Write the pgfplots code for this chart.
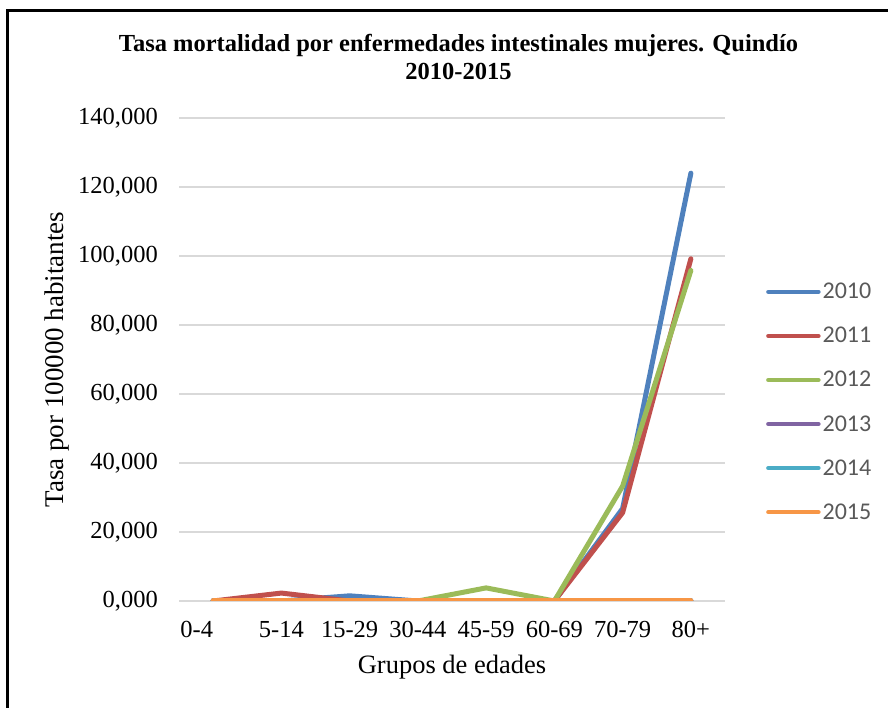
\documentclass[border=0pt]{standalone}
\usepackage{pgfplots}
\pgfplotsset{compat=1.18}
\usepackage{fontspec}
\setmainfont{Liberation Serif}
\newfontfamily\legendfont{Carlito}

\definecolor{c2010}{HTML}{4F81BD}
\definecolor{c2011}{HTML}{C0504D}
\definecolor{c2012}{HTML}{9BBB59}
\definecolor{c2013}{HTML}{8064A2}
\definecolor{c2014}{HTML}{4BACC6}
\definecolor{c2015}{HTML}{F79646}
\definecolor{gridgray}{HTML}{D9D9D9}
\definecolor{legtext}{HTML}{595959}

\begin{document}
\begin{tikzpicture}[x=1pt,y=1pt]
\useasboundingbox (0,0) rectangle (888,708);
% outer frame (runs off the page on the right and at the bottom)
\begin{scope}
\clip (0,0) rectangle (888,708);
\draw[line width=3.5pt] (7.5,-20) -- (7.5,697.5) -- (900,697.5);
\end{scope}
\begin{axis}[
  at={(179pt,107pt)}, anchor=south west,
  scale only axis, width=546pt, height=483pt,
  xmin=-0.5, xmax=7.5, ymin=0, ymax=140,
  xtick={0,...,7},
  xticklabels={{\llap{0-4}},5-14,15-29,30-44,45-59,60-69,70-79,80+},
  ytick={0,20,...,140},
  axis line style={draw=none},
  major tick length=0pt,
  ymajorgrids, grid style={gridgray, line width=1.5pt},
  tick label style={font=\fontsize{24.5}{28}\selectfont, text=black},
  yticklabel style={inner sep=0pt, xshift=-21pt,
    /pgf/number format/fixed, /pgf/number format/fixed zerofill,
    /pgf/number format/precision=3, /pgf/number format/use comma,
    /pgf/number format/1000 sep={}, /pgf/number format/assume math mode=true},
  xticklabel style={inner sep=0pt, yshift=-20pt},
  title={Tasa mortalidad por enfermedades intestinales mujeres. Quindío\\2010-2015},
  title style={align=center, font=\bfseries\fontsize{24.5}{27.5}\selectfont,
    at={(axis description cs:0.512,1.114)}, anchor=center},
  xlabel={Grupos de edades},
  xlabel style={font=\fontsize{26.5}{30}\selectfont,
    at={(axis description cs:0.5,-0.1366)}, anchor=center},
  ylabel={Tasa por 100000 habitantes},
  ylabel style={font=\fontsize{27}{30}\selectfont,
    at={(axis description cs:-0.2234,0.5)}, anchor=center},
  every axis plot/.append style={line width=5pt, line cap=round, line join=round},
  legend image code/.code={\draw[#1, line width=4.5pt] (0pt,0pt) -- (50pt,0pt);},
  legend cell align=left,
  legend style={at={(axis description cs:1.075,0.412)}, anchor=west,
    draw=none, fill=none, inner sep=0pt,
    font=\legendfont\fontsize{24}{28}\selectfont, text=legtext,
    row sep=23pt,
    /tikz/every even column/.append style={column sep=4pt}},
]
\addplot[c2010] coordinates {(0,0) (1,0) (2,1.5) (3,0) (4,0) (5,0) (6,26.8) (7,124.0)};
\addplot[c2011] coordinates {(0,0) (1,2.3) (2,0) (3,0) (4,0) (5,0) (6,25.6) (7,99.2)};
\addplot[c2012] coordinates {(0,0) (1,0) (2,0) (3,0) (4,3.8) (5,0) (6,33.3) (7,95.8)};
\addplot[c2013] coordinates {(0,0) (1,0) (2,0) (3,0) (4,0) (5,0) (6,0) (7,0)};
\addplot[c2014] coordinates {(0,0) (1,0) (2,0) (3,0) (4,0) (5,0) (6,0) (7,0)};
\addplot[c2015] coordinates {(0,0) (1,0) (2,0) (3,0) (4,0) (5,0) (6,0) (7,0)};
\legend{2010,2011,2012,2013,2014,2015}
\end{axis}
\end{tikzpicture}
\end{document}
